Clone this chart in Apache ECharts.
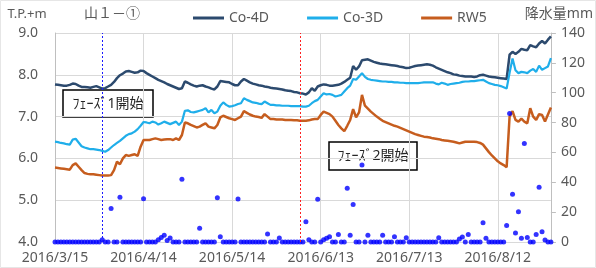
<!DOCTYPE html>
<html>
<head>
<meta charset="utf-8">
<script src="https://cdn.jsdelivr.net/npm/echarts@6/dist/echarts.min.js"></script>
<style>
html,body{margin:0;padding:0;background:#fff;}
#chart{width:596px;height:268px;}
</style>
</head>
<body>
<div id="chart"></div>
<script>
// ---- categories: daily dates 2016/3/15 .. 2016/8/30 ----
const startDate = '2016-03-15';
const dayCount = 169;
const categories = [];
(function(){
  const d0 = new Date(startDate + 'T00:00:00Z');
  for (let i = 0; i < dayCount; i++) {
    const d = new Date(d0.getTime() + i * 86400000);
    categories.push(d.getUTCFullYear() + '/' + (d.getUTCMonth() + 1) + '/' + d.getUTCDate());
  }
})();

const chartTitle = '山１－①';
const xTickLabels = ['2016/3/15', '2016/4/14', '2016/5/14', '2016/6/13', '2016/7/13', '2016/8/12'];
const leftTicks = [4.0, 5.0, 6.0, 7.0, 8.0, 9.0];
const rightTicks = [0, 20, 40, 60, 80, 100, 120, 140];
const phaseDates = ['2016/3/31', '2016/6/6'];
const phaseLabels = ['ﾌｪｰｽﾞ1開始', 'ﾌｪｰｽﾞ2開始'];
const seriesNames = ['Co-4D', 'Co-3D', 'RW5', '降水量'];

const co4d = [
7.77,7.76,7.75,7.74,7.74,7.76,7.79,7.78,7.74,7.71,
7.71,7.70,7.69,7.71,7.73,7.70,7.67,7.68,7.72,7.76,
7.83,7.92,7.99,8.03,8.08,8.09,8.07,8.05,8.06,8.10,
8.09,8.04,8.00,7.96,7.92,7.88,7.85,7.82,7.78,7.75,
7.72,7.69,7.66,7.68,7.84,7.81,7.77,7.74,7.72,7.74,
7.75,7.72,7.70,7.67,7.65,7.72,7.85,7.84,7.83,7.82,
7.78,7.75,7.75,7.84,7.90,7.86,7.82,7.79,7.77,7.75,
7.74,7.72,7.71,7.69,7.68,7.67,7.66,7.65,7.63,7.62,
7.61,7.59,7.58,7.56,7.55,7.53,7.58,7.68,7.62,7.72,
7.75,7.77,7.76,7.74,7.74,7.75,7.76,7.79,7.83,7.88,
7.93,8.21,8.12,8.20,8.35,8.36,8.37,8.34,8.31,8.29,
8.27,8.26,8.25,8.24,8.23,8.22,8.21,8.19,8.18,8.16,
8.17,8.19,8.21,8.22,8.23,8.24,8.25,8.24,8.22,8.18,
8.15,8.12,8.09,8.06,8.04,8.01,8.00,7.98,7.97,7.96,
7.96,7.96,7.95,7.96,7.99,8.00,7.98,7.96,7.95,7.94,
7.93,7.92,7.91,7.90,8.48,8.55,8.50,8.55,8.62,8.60,
8.59,8.71,8.68,8.66,8.75,8.81,8.75,8.84,8.92
];

const co3d = [
6.40,6.39,6.37,6.36,6.34,6.33,6.45,6.47,6.38,6.29,
6.26,6.24,6.22,6.22,6.21,6.20,6.18,6.16,6.20,6.26,
6.32,6.37,6.42,6.48,6.54,6.58,6.60,6.64,6.70,6.78,
6.87,6.86,6.84,6.88,6.86,6.81,6.84,6.88,6.85,6.82,
6.85,6.88,6.80,6.88,7.14,7.15,7.11,7.10,7.12,7.14,
7.16,7.20,7.10,7.16,7.08,7.12,7.26,7.34,7.28,7.24,
7.25,7.27,7.30,7.32,7.44,7.40,7.37,7.34,7.33,7.31,
7.30,7.36,7.32,7.28,7.28,7.27,7.27,7.26,7.26,7.26,
7.25,7.25,7.25,7.25,7.24,7.24,7.26,7.32,7.37,7.40,
7.48,7.56,7.53,7.54,7.52,7.48,7.50,7.52,7.60,7.68,
7.74,7.90,7.88,7.96,8.04,7.95,7.90,7.88,7.87,7.86,
7.85,7.84,7.84,7.83,7.83,7.82,7.82,7.81,7.81,7.80,
7.80,7.80,7.80,7.80,7.81,7.82,7.82,7.82,7.82,7.79,
7.77,7.81,7.79,7.76,7.78,7.79,7.80,7.81,7.83,7.84,
7.84,7.85,7.85,7.86,7.87,7.88,7.84,7.80,7.78,7.76,
7.75,7.73,7.70,7.67,8.05,8.39,8.11,8.04,8.07,8.06,
8.04,8.10,8.14,8.07,8.22,8.12,8.16,8.20,8.40
];

const rw5 = [
5.78,5.77,5.76,5.75,5.74,5.73,5.84,5.88,5.80,5.72,
5.65,5.63,5.62,5.62,5.61,5.60,5.59,5.59,5.59,5.60,
5.72,5.92,5.86,6.00,6.08,6.06,6.08,6.10,6.06,6.28,
6.44,6.44,6.44,6.46,6.48,6.46,6.44,6.45,6.46,6.46,
6.44,6.48,6.44,6.56,6.86,6.84,6.80,6.77,6.74,6.76,
6.80,6.84,6.76,6.74,6.72,6.80,6.98,7.02,6.99,6.96,
6.94,6.92,6.96,7.00,7.13,7.09,7.05,7.02,7.00,6.99,
6.97,7.06,7.00,6.94,6.94,6.93,6.93,6.93,6.92,6.92,
6.92,6.91,6.91,6.90,6.90,6.90,6.91,6.93,6.94,6.94,
7.04,7.12,7.09,7.06,7.00,6.90,6.80,6.72,6.65,6.78,
6.92,7.18,6.98,7.10,7.52,7.26,7.19,7.12,7.06,7.00,
6.95,6.90,6.87,6.84,6.81,6.78,6.76,6.73,6.70,6.67,
6.64,6.61,6.58,6.56,6.54,6.52,6.51,6.50,6.48,6.47,
6.46,6.44,6.43,6.42,6.41,6.40,6.38,6.36,6.38,6.40,
6.40,6.40,6.40,6.39,6.37,6.33,6.24,6.15,6.07,6.00,
5.93,5.88,5.84,5.79,7.00,7.13,6.92,6.88,6.95,6.88,
6.84,7.20,7.00,6.92,7.06,7.04,6.88,7.05,7.22
];

const rain = [
0,0,0,0,0,0,0,0,0,0,
0,0,0,0,0,0,1.5,0,0,22.5,
0,0,30,0,0,0,0,0,0,0,
29,0,0,0,0,1.5,3,4.5,1,2.6,
0,0,0,42,0,0,0,0,0,9.2,
0,0,0,0,0,29.7,3.6,0,0,0,
0,0,28.8,0,0,0,0,0,0,0,
0,0,5.4,0,0,0,2.7,0,0,0,
0,0,0,0,0,13.6,1.5,0,0,28.6,
0,1.5,2.5,3.6,0,0,5.1,0,0,36,
4.5,25.2,0,0,51.6,0,4.5,0,0,0,
0,4.5,0,0,0,3.6,0,0,0,2.8,
0,0,0,0,0,0,0,0,0,0,
2.8,0,0,0,0,0,0,2,3.4,0,
5,0,0,0,0,12.9,2.5,0,0,0,
0,0,0,11,86,32,6,20.3,2.5,66,
3,0,0,5.1,36.6,6.9,1.3,0,0
];

const FONT = "'Noto Sans', 'Noto Sans CJK JP', sans-serif";
const GRAY = '#595959';
const colors = ['#2C4A6E', '#1FAEEA', '#C65D1E', '#0000FF'];

const chart = echarts.init(document.getElementById('chart'), null, {renderer: 'canvas'});

const option = {
  animation: false,
  backgroundColor: '#ffffff',
  textStyle: {fontFamily: FONT},
  legend: {
    data: seriesNames.slice(0, 3).map(n => ({name: n, icon: 'rect'})),
    left: 188, top: 6,
    itemWidth: 31, itemHeight: 3, itemGap: 38,
    textStyle: {fontFamily: FONT, fontSize: 14, color: GRAY}
  },
  grid: {left: 55, right: 43, top: 33, bottom: 26, containLabel: false},
  xAxis: {
    type: 'category',
    data: categories,
    boundaryGap: false,
    axisLine: {show: true, lineStyle: {color: '#D9D9D9', width: 1}},
    axisTick: {show: false},
    axisLabel: {
      interval: function (idx, val) { return xTickLabels.indexOf(val) >= 0; },
      color: GRAY, fontFamily: FONT, fontSize: 14, margin: 9
    },
    splitLine: {
      show: true,
      interval: function (idx, val) { return xTickLabels.indexOf(val) >= 0; },
      lineStyle: {color: '#D9D9D9', width: 1}
    }
  },
  yAxis: [
    {
      type: 'value',
      min: leftTicks[0], max: leftTicks[leftTicks.length - 1], interval: 1,
      name: 'T.P.+m',
      nameLocation: 'end', nameGap: 12,
      nameTextStyle: {fontFamily: FONT, fontSize: 13, color: GRAY, align: 'center', padding: [0, 56, 0, 0]},
      axisLine: {show: true, lineStyle: {color: '#BFBFBF'}},
      axisTick: {show: false},
      axisLabel: {color: GRAY, fontFamily: FONT, fontSize: 14, margin: 17,
        formatter: v => v.toFixed(1)},
      splitLine: {show: true, lineStyle: {color: '#D9D9D9', width: 1}}
    },
    {
      type: 'value',
      min: rightTicks[0], max: rightTicks[rightTicks.length - 1], interval: 20,
      position: 'right',
      name: '降水量mm',
      nameLocation: 'end', nameGap: 12,
      nameTextStyle: {fontFamily: FONT, fontSize: 14, color: GRAY, align: 'center', padding: [0, 0, 0, 16]},
      axisLine: {show: true, lineStyle: {color: '#BFBFBF'}},
      axisTick: {show: true, inside: false, length: 5, lineStyle: {color: '#BFBFBF'}},
      axisLabel: {color: GRAY, fontFamily: FONT, fontSize: 14, margin: 10},
      splitLine: {show: false}
    }
  ],
  series: [
    {
      name: seriesNames[0], type: 'line', data: co4d, yAxisIndex: 0,
      symbol: 'none', color: colors[0],
      lineStyle: {width: 2.5, color: colors[0]}, z: 3,
      markLine: {
        silent: true, symbol: 'none', label: {show: false},
        data: [
          {xAxis: phaseDates[0], lineStyle: {color: '#1A1AFF', type: [2, 2], width: 1}},
          {xAxis: phaseDates[1], lineStyle: {color: '#FF2020', type: [2, 2], width: 1}}
        ]
      }
    },
    {
      name: seriesNames[1], type: 'line', data: co3d, yAxisIndex: 0,
      symbol: 'none', color: colors[1],
      lineStyle: {width: 2.2, color: colors[1]}, z: 3
    },
    {
      name: seriesNames[2], type: 'line', data: rw5, yAxisIndex: 0,
      symbol: 'none', color: colors[2],
      lineStyle: {width: 2.5, color: colors[2]}, z: 3
    },
    {
      name: seriesNames[3], type: 'scatter', data: rain, yAxisIndex: 1,
      symbol: 'circle', symbolSize: 5, color: colors[3],
      itemStyle: {color: colors[3]}, z: 4
    }
  ],
  graphic: [
    {type: 'rect', z: 1, shape: {x: 0.5, y: 0.5, width: 595, height: 267},
     style: {fill: 'none', stroke: '#E6E6E6', lineWidth: 1}},
    {type: 'text', z: 5, x: 84, y: 14,
     style: {text: chartTitle, fill: GRAY, font: '14px ' + FONT, textAlign: 'left', textVerticalAlign: 'middle'}},
    {type: 'group', z: 2,
     children: [
      {type: 'rect', shape: {x: 63, y: 90, width: 90, height: 27},
       style: {fill: '#ffffff', stroke: '#000000', lineWidth: 1.5}},
      {type: 'text', x: 108, y: 104,
       style: {text: phaseLabels[0], fill: '#262626', font: '14px ' + FONT, textAlign: 'center', textVerticalAlign: 'middle'}}
     ]},
    {type: 'group', z: 2,
     children: [
      {type: 'rect', shape: {x: 329, y: 142, width: 88, height: 28},
       style: {fill: '#ffffff', stroke: '#000000', lineWidth: 1.5}},
      {type: 'text', x: 373, y: 156,
       style: {text: phaseLabels[1], fill: '#262626', font: '14px ' + FONT, textAlign: 'center', textVerticalAlign: 'middle'}}
     ]}
  ]
};

chart.setOption(option);
</script>
</body>
</html>
